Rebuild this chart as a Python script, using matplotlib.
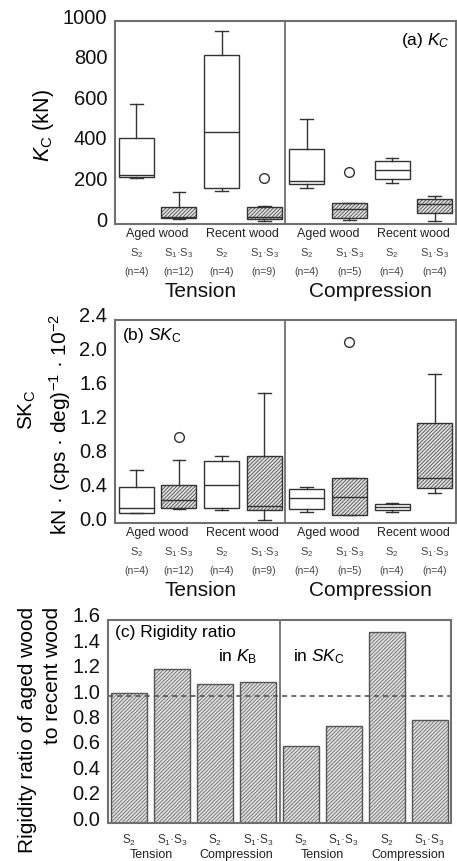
import matplotlib
matplotlib.use('Agg')
import matplotlib.pyplot as plt
import matplotlib.transforms as mtransforms

plt.rcParams['font.family'] = ['Liberation Sans', 'DejaVu Sans']
plt.rcParams['mathtext.fontset'] = 'custom'
plt.rcParams['mathtext.rm'] = 'Liberation Sans'
plt.rcParams['mathtext.it'] = 'Liberation Sans:italic'
plt.rcParams['mathtext.bf'] = 'Liberation Sans:bold'
plt.rcParams['hatch.color'] = '#9a9a9a'
plt.rcParams['hatch.linewidth'] = 0.5

# ---------------- data ----------------
groups = ['Aged wood', 'Recent wood', 'Aged wood', 'Recent wood']
layers = ['S$_2$', 'S$_1$·S$_3$', 'S$_2$', 'S$_1$·S$_3$',
          'S$_2$', 'S$_1$·S$_3$', 'S$_2$', 'S$_1$·S$_3$']
n_labels = ['(n=4)', '(n=12)', '(n=4)', '(n=9)', '(n=4)', '(n=5)', '(n=4)', '(n=4)']
modes = ['Tension', 'Compression']
hatched = [False, True, False, True, False, True, False, True]

# (a) K_C (kN)
kc_whislo = [225, 25, 163, 16, 176, 20, 204, 16]
kc_q1 = [233, 28, 176, 25, 195, 28, 220, 53]
kc_med = [241, 33, 452, 36, 212, 72, 266, 97]
kc_q3 = [422, 85, 833, 85, 368, 105, 312, 125]
kc_whishi = [591, 159, 951, 89, 516, 105, 327, 138]
kc_fliers = [[], [], [], [225], [], [255], [], []]

# (b) SK_C
sk_whislo = [0.114, 0.16, 0.154, 0.035, 0.126, 0.10, 0.126, 0.35]
sk_q1 = [0.114, 0.181, 0.173, 0.154, 0.16, 0.10, 0.154, 0.41]
sk_med = [0.173, 0.272, 0.449, 0.205, 0.29, 0.303, 0.193, 0.528]
sk_q3 = [0.43, 0.449, 0.737, 0.796, 0.40, 0.536, 0.22, 1.186]
sk_whishi = [0.626, 0.745, 0.79, 1.54, 0.43, 0.536, 0.232, 1.757]
sk_fliers = [[], [1.02], [], [], [], [2.14], [], []]

# (c) rigidity ratio
ratio_labels = ['S$_2$', 'S$_1$·S$_3$', 'S$_2$', 'S$_1$·S$_3$',
                'S$_2$', 'S$_1$·S$_3$', 'S$_2$', 'S$_1$·S$_3$']
ratio_modes = ['Tension', 'Compression', 'Tension', 'Compression']
ratio = [1.022, 1.211, 1.093, 1.109, 0.607, 0.765, 1.503, 0.812]

# ---------------- figure ----------------
W, H = 457, 861
fig = plt.figure(figsize=(W / 100, H / 100), dpi=100)


def ax_rect(l, t, r, b):
    return [l / W, 1 - b / H, (r - l) / W, (b - t) / H]


SPINE = '#707070'
HFACE = '#e0e0e0'
LINE = '#333333'
HATCH = '/////////'


def style_axes(ax, yticks, fmt):
    for s in ax.spines.values():
        s.set_color(SPINE)
        s.set_linewidth(1.5)
    ax.set_xticks([])
    ax.set_yticks(yticks)
    ax.set_yticklabels([fmt.format(v) for v in yticks])
    ax.tick_params(axis='y', length=0, pad=5.5, labelsize=14.5, colors='#111111')
    off = mtransforms.ScaledTranslation(0, 5 / 100, fig.dpi_scale_trans)
    for lab in ax.get_yticklabels():
        lab.set_transform(lab.get_transform() + off)


def boxpanel(ax, whislo, q1, med, q3, whishi, fliers):
    pos = list(range(1, len(med) + 1))
    stats = []
    for i in range(len(med)):
        stats.append(dict(whislo=whislo[i], q1=q1[i], med=med[i], q3=q3[i],
                          whishi=whishi[i], fliers=fliers[i]))
    bp = ax.bxp(stats, positions=pos, widths=0.82, patch_artist=True,
                showfliers=True, capwidths=0.3,
                boxprops=dict(edgecolor=LINE, linewidth=1.0),
                medianprops=dict(color=LINE, linewidth=1.0),
                whiskerprops=dict(color=LINE, linewidth=1.0),
                capprops=dict(color=LINE, linewidth=1.0),
                flierprops=dict(marker='o', markersize=7, markerfacecolor='none',
                                markeredgecolor=LINE, markeredgewidth=1.0))
    for patch, h in zip(bp['boxes'], hatched):
        if h:
            patch.set_facecolor(HFACE)
            patch.set_hatch(HATCH)
        else:
            patch.set_facecolor('white')
    ax.set_xlim(0.5, 8.5)
    ax.axvline(4.5, color=SPINE, linewidth=1.3)
    # category labels below
    for k, g in enumerate(groups):
        ax.annotate(g, xy=(1.5 + 2 * k, 0), xycoords=('data', 'axes fraction'),
                    xytext=(0, -10 * 0.72), textcoords='offset points',
                    ha='center', va='center', fontsize=9, color='#222222')
    for i in range(8):
        ax.annotate(layers[i], xy=(i + 1, 0), xycoords=('data', 'axes fraction'),
                    xytext=(0, -29 * 0.72), textcoords='offset points',
                    ha='center', va='center', fontsize=8, color='#444444')
        ax.annotate(n_labels[i], xy=(i + 1, 0), xycoords=('data', 'axes fraction'),
                    xytext=(0, -48 * 0.72), textcoords='offset points',
                    ha='center', va='center', fontsize=7.5, color='#444444')
    for k, m in enumerate(modes):
        ax.annotate(m, xy=(2.5 + 4 * k, 0), xycoords=('data', 'axes fraction'),
                    xytext=(0, -67 * 0.72), textcoords='offset points',
                    ha='center', va='center', fontsize=15, color='#111111')


# ---- panel (a)
axa = fig.add_axes(ax_rect(115, 21, 456, 224))
boxpanel(axa, kc_whislo, kc_q1, kc_med, kc_q3, kc_whishi, kc_fliers)
axa.set_ylim(0, 1000)
style_axes(axa, [0, 200, 400, 600, 800, 1000], '{:.0f}')
axa.text(0.982, 0.906, '(a) $K_C$', transform=axa.transAxes, ha='right',
         va='center', fontsize=12.5)
fig.text(43 / W, 1 - 126 / H, '$K_\\mathrm{C}$ (kN)', rotation=90,
         ha='center', va='center', fontsize=15.5)

# ---- panel (b)
axb = fig.add_axes(ax_rect(115, 320, 456, 523))
boxpanel(axb, sk_whislo, sk_q1, sk_med, sk_q3, sk_whishi, sk_fliers)
axb.set_ylim(0, 2.4)
style_axes(axb, [0.0, 0.4, 0.8, 1.2, 1.6, 2.0, 2.4], '{:.1f}')
axb.text(0.02, 0.926, '(b) $SK_\\mathrm{C}$', transform=axb.transAxes,
         ha='left', va='center', fontsize=12.5)
fig.text(27 / W, 1 - 410 / H, '$\\mathrm{SK}_\\mathrm{C}$', rotation=90,
         ha='center', va='center', fontsize=15)
fig.text(60 / W, 1 - 424 / H, 'kN · (cps · deg)$^{-1}$ · 10$^{-2}$',
         rotation=90, ha='center', va='center', fontsize=15)

# ---- panel (c)
axc = fig.add_axes(ax_rect(108, 620, 451, 823))
xpos = list(range(1, len(ratio) + 1))
axc.bar(xpos, ratio, width=0.84, color=HFACE, edgecolor='#555555',
        linewidth=1.0, hatch=HATCH)
axc.set_xlim(0.5, 8.5)
axc.set_ylim(0, 1.6)
axc.axhline(1.0, color='#555555', linewidth=1.2, linestyle=(0, (3, 2.5)))
axc.axvline(4.5, color=SPINE, linewidth=1.3)
style_axes(axc, [0.0, 0.2, 0.4, 0.6, 0.8, 1.0, 1.2, 1.4, 1.6], '{:.1f}')
axc.text(0.02, 0.936, '(c) Rigidity ratio', transform=axc.transAxes,
         ha='left', va='center', fontsize=12.5)
axc.text(0.32, 0.818, 'in $K_\\mathrm{B}$', transform=axc.transAxes,
         ha='left', va='center', fontsize=12.5)
axc.text(0.539, 0.818, 'in $SK_\\mathrm{C}$', transform=axc.transAxes,
         ha='left', va='center', fontsize=12.5)
for i in range(8):
    axc.annotate(ratio_labels[i], xy=(i + 1, 0), xycoords=('data', 'axes fraction'),
                 xytext=(0, -17 * 0.72), textcoords='offset points',
                 ha='center', va='center', fontsize=8.5, color='#333333')
for k, m in enumerate(ratio_modes):
    axc.annotate(m, xy=(1.5 + 2 * k, 0), xycoords=('data', 'axes fraction'),
                 xytext=(0, -32 * 0.72), textcoords='offset points',
                 ha='center', va='center', fontsize=9, color='#222222')
fig.text(28 / W, 1 - 607 / H, 'Rigidity ratio of aged wood', rotation=90,
         ha='center', va='top', fontsize=15)
fig.text(53 / W, 1 - 607 / H, 'to recent wood', rotation=90,
         ha='center', va='top', fontsize=15)

fig.savefig('out.png', dpi=100)
